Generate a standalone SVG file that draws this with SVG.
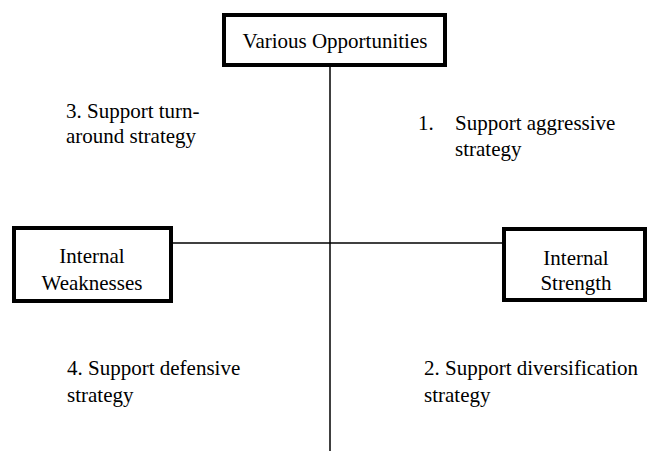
<svg xmlns="http://www.w3.org/2000/svg" width="661" height="451" viewBox="0 0 661 451">
<style>
.t{font-family:'Liberation Serif','Times New Roman','DejaVu Serif',serif;font-size:21px;fill:#000}
.box{fill:#fff;stroke:#000;stroke-width:4}
.ln{stroke:#000;stroke-width:1.5;fill:none}
.c{text-anchor:middle}
</style>
<rect width="661" height="451" fill="#fff"/>
<g id="connectors">
<line class="ln" x1="330" y1="67" x2="330" y2="451"/>
<line class="ln" x1="173" y1="243" x2="502" y2="243"/>
</g>
<g font-family="Liberation Serif, Times New Roman, serif" class="t">
<g id="node-opportunities">
<rect class="box" x="224" y="15" width="221" height="50"/>
<text class="t c" x="335" y="48" font-size="21">Various Opportunities</text>
</g>
<g id="node-weaknesses">
<rect class="box" x="14" y="228" width="157" height="73"/>
<text class="t c" x="92" y="263">Internal</text>
<text class="t c" x="92" y="290">Weaknesses</text>
</g>
<g id="node-strength">
<rect class="box" x="504" y="229" width="141" height="71"/>
<text class="t c" x="576" y="265">Internal</text>
<text class="t c" x="576" y="290">Strength</text>
</g>
<g id="label-1">
<text class="t" x="418" y="130">1.</text>
<text class="t" x="455" y="130">Support aggressive</text>
<text class="t" x="455" y="156">strategy</text>
</g>
<g id="label-3">
<text class="t" x="66" y="118">3. Support turn-</text>
<text class="t" x="66" y="143">around strategy</text>
</g>
<g id="label-4">
<text class="t" x="67" y="375">4. Support defensive</text>
<text class="t" x="67" y="402">strategy</text>
</g>
<g id="label-2">
<text class="t" x="424" y="375">2. Support diversification</text>
<text class="t" x="424" y="402">strategy</text>
</g>
</g>
</svg>
